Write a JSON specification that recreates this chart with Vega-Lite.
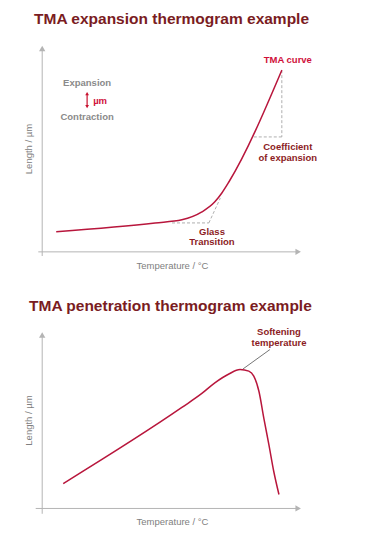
{
  "$schema": "https://vega.github.io/schema/vega-lite/v6.json",
  "padding": {"left": 23, "top": 11, "right": 5, "bottom": 5},
  "spacing": 28,
  "config": {
    "view": {"stroke": null},
    "font": "Liberation Sans",
    "title": {"font": "Liberation Sans", "fontSize": 15.5, "fontWeight": "bold", "color": "#7a1c22", "anchor": "start", "frame": "group", "baseline": "alphabetic"},
    "axis": {"domain": false, "ticks": false, "labels": false, "grid": false, "titleFont": "Liberation Sans", "titleFontSize": 9.5, "titleFontWeight": "normal", "titleColor": "#808080", "titlePadding": 4}
  },
  "datasets": {
    "curve1": [
      {"x": 5.4, "y": 9.7}, {"x": 43.5, "y": 14.0}, {"x": 53.8, "y": 15.5}, {"x": 61.5, "y": 19.3},
      {"x": 66.5, "y": 24.2}, {"x": 69.2, "y": 28.5}, {"x": 71.9, "y": 33.8}, {"x": 92.3, "y": 87.9}
    ],
    "guides1": [
      {"x": 50, "y": 14, "x2": 64.2, "y2": 14},
      {"x": 64.2, "y": 14, "x2": 68.6, "y2": 26},
      {"x": 92.3, "y": 87.9, "x2": 92.3, "y2": 55.6},
      {"x": 81.5, "y": 55.6, "x2": 92.3, "y2": 55.6}
    ],
    "axes1": [
      {"x": -1.5, "y": 0, "x2": 98, "y2": 0},
      {"x": 0, "y": -2, "x2": 0, "y2": 98}
    ],
    "arrows1": [
      {"x": 98.6, "y": 0, "shape": "triangle-right"},
      {"x": 0, "y": 98.4, "shape": "triangle-up"}
    ],
    "labels1": [
      {"x": 94.6, "y": 92.8, "label": "TMA curve", "kind": "bright"},
      {"x": 94.6, "y": 50.7, "label": "Coefficient", "kind": "dark"},
      {"x": 94.6, "y": 45.4, "label": "of expansion", "kind": "dark"},
      {"x": 65.4, "y": 9.7, "label": "Glass", "kind": "dark"},
      {"x": 65.4, "y": 4.8, "label": "Transition", "kind": "dark"},
      {"x": 17.3, "y": 81.6, "label": "Expansion", "kind": "gray"},
      {"x": 22.3, "y": 73.2, "label": "µm", "kind": "bright"},
      {"x": 17.3, "y": 65.2, "label": "Contraction", "kind": "gray"}
    ],
    "umarrow": [
      {"x": 17.3, "y": 76.0, "x2": 17.3, "y2": 70.8}
    ],
    "umheads": [
      {"x": 17.3, "y": 76.6, "shape": "triangle-up"},
      {"x": 17.3, "y": 70.2, "shape": "triangle-down"}
    ],
    "curve2": [
      {"x": 8.1, "y": 14.1}, {"x": 53.8, "y": 57.1}, {"x": 61.5, "y": 65.0}, {"x": 66.5, "y": 71.0},
      {"x": 71.9, "y": 76.0}, {"x": 76.2, "y": 78.5}, {"x": 79.6, "y": 77.6}, {"x": 81.5, "y": 74.8},
      {"x": 83.5, "y": 66.1}, {"x": 85.4, "y": 50.8}, {"x": 87.3, "y": 36.2}, {"x": 89.2, "y": 20.9},
      {"x": 91.2, "y": 7.9}
    ],
    "leader2": [
      {"x": 77.3, "y": 78.8, "x2": 87.7, "y2": 89.8}
    ],
    "axes2": [
      {"x": -2.5, "y": 0, "x2": 98, "y2": 0},
      {"x": 0, "y": -3, "x2": 0, "y2": 98}
    ],
    "arrows2": [
      {"x": 98.6, "y": 0, "shape": "triangle-right"},
      {"x": 0, "y": 98.0, "shape": "triangle-up"}
    ],
    "labels2": [
      {"x": 91.2, "y": 99.5, "label": "Softening", "kind": "dark"},
      {"x": 91.2, "y": 93.3, "label": "temperature", "kind": "dark"}
    ]
  },
  "vconcat": [
    {
      "width": 270,
      "height": 215,
      "title": {"text": "TMA expansion thermogram example", "dx": -3, "offset": 14},
      "encoding": {
        "x": {"field": "x", "type": "quantitative", "scale": {"domain": [-2, 102], "nice": false, "zero": false}, "axis": {"title": "Temperature / °C"}},
        "y": {"field": "y", "type": "quantitative", "scale": {"domain": [-2, 102], "nice": false, "zero": false}, "axis": {"title": "Length / µm"}}
      },
      "layer": [
        {"data": {"name": "axes1"}, "mark": {"type": "rule", "color": "#b4b4b4", "strokeWidth": 1}, "encoding": {"x2": {"field": "x2"}, "y2": {"field": "y2"}}},
        {"data": {"name": "arrows1"}, "mark": {"type": "point", "filled": true, "color": "#b4b4b4", "size": 40, "opacity": 1}, "encoding": {"shape": {"field": "shape", "type": "nominal", "scale": null}}},
        {"data": {"name": "guides1"}, "mark": {"type": "rule", "color": "#9a9a9a", "strokeWidth": 0.8, "strokeDash": [3, 2]}, "encoding": {"x2": {"field": "x2"}, "y2": {"field": "y2"}}},
        {"data": {"name": "curve1"}, "mark": {"type": "line", "color": "#b8163c", "strokeWidth": 1.5, "interpolate": "monotone"}, "encoding": {}},
        {"data": {"name": "umarrow"}, "mark": {"type": "rule", "color": "#c8102e", "strokeWidth": 1.2}, "encoding": {"x2": {"field": "x2"}, "y2": {"field": "y2"}}},
        {"data": {"name": "umheads"}, "mark": {"type": "point", "filled": true, "color": "#c8102e", "size": 14, "opacity": 1}, "encoding": {"shape": {"field": "shape", "type": "nominal", "scale": null}}},
        {"data": {"name": "labels1"}, "mark": {"type": "text", "fontSize": 9.5, "fontWeight": "bold", "align": "center", "baseline": "middle"},
          "encoding": {"text": {"field": "label"}, "color": {"field": "kind", "type": "nominal", "scale": {"domain": ["bright", "dark", "gray"], "range": ["#d0103a", "#8c1c24", "#8a8a8a"]}, "legend": null}}}
      ]
    },
    {
      "width": 270,
      "height": 184,
      "title": {"text": "TMA penetration thermogram example", "dx": -8, "offset": 13},
      "encoding": {
        "x": {"field": "x", "type": "quantitative", "scale": {"domain": [-2, 102], "nice": false, "zero": false}, "axis": {"title": "Temperature / °C"}},
        "y": {"field": "y", "type": "quantitative", "scale": {"domain": [-2, 102], "nice": false, "zero": false}, "axis": {"title": "Length / µm"}}
      },
      "layer": [
        {"data": {"name": "axes2"}, "mark": {"type": "rule", "color": "#b4b4b4", "strokeWidth": 1}, "encoding": {"x2": {"field": "x2"}, "y2": {"field": "y2"}}},
        {"data": {"name": "arrows2"}, "mark": {"type": "point", "filled": true, "color": "#b4b4b4", "size": 40, "opacity": 1}, "encoding": {"shape": {"field": "shape", "type": "nominal", "scale": null}}},
        {"data": {"name": "leader2"}, "mark": {"type": "rule", "color": "#666666", "strokeWidth": 0.9}, "encoding": {"x2": {"field": "x2"}, "y2": {"field": "y2"}}},
        {"data": {"name": "curve2"}, "mark": {"type": "line", "color": "#b8163c", "strokeWidth": 1.5, "interpolate": "monotone"}, "encoding": {}},
        {"data": {"name": "labels2"}, "mark": {"type": "text", "fontSize": 9.5, "fontWeight": "bold", "align": "center", "baseline": "middle", "color": "#8c1c24"},
          "encoding": {"text": {"field": "label"}}}
      ]
    }
  ]
}
